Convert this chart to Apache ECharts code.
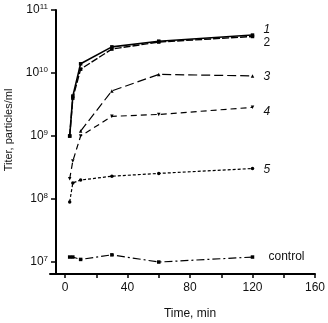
<!DOCTYPE html>
<html><head><meta charset="utf-8">
<script src="https://cdn.jsdelivr.net/npm/echarts@6/dist/echarts.min.js"></script>
<style>html,body{margin:0;padding:0;background:#fff}#c{width:328px;height:323px}</style>
</head><body><div id="c"></div>
<script>
// Time (min) and titer (particles/ml) per series
const s1T = [3, 5, 10, 30, 60, 120];
const s1V = [1.0e9, 4.3e9, 1.4e10, 2.6e10, 3.2e10, 4.0e10];
const s2T = [3, 5, 10, 30, 60, 120];
const s2V = [1.0e9, 4.0e9, 1.15e10, 2.4e10, 3.1e10, 3.8e10];
const s3T = [10, 30, 60, 120];
const s3V = [1.2e9, 5.2e9, 9.5e9, 9.0e9];
const s4T = [3, 5, 10, 30, 60, 120];
const s4V = [2.1e8, 4.0e8, 1.0e9, 2.05e9, 2.2e9, 2.85e9];
const s5T = [3, 5, 10, 30, 60, 120];
const s5V = [9.0e7, 1.8e8, 2.0e8, 2.3e8, 2.55e8, 3.05e8];
const ctrlT = [3, 5, 10, 30, 60, 120];
const ctrlV = [1.2e7, 1.2e7, 1.1e7, 1.3e7, 1.0e7, 1.2e7];
const seriesNames = ['1', '2', '3', '4', '5', 'control'];
const xTicks = [0, 20, 40, 60, 80, 100, 120, 140, 160];
const xLabels = [0, 40, 80, 120, 160];
const yExpTicks = [7, 8, 9, 10, 11];

const toData = (T, V) => T.map((t, i) => [t, Math.log10(V[i])]);
const FONT = 'Liberation Sans, Arial, sans-serif';
const downTri = 'path://M0,0 L10,0 L5,9 Z';

function mk(name, T, V, opts) {
  return {
    name: name, type: 'line', data: toData(T, V),
    symbol: opts.symbol, symbolSize: opts.size || 3.5,
    itemStyle: { color: '#000' },
    lineStyle: { color: '#000', width: opts.width || 1.2, type: opts.dash },
    endLabel: {
      show: true, formatter: name, color: '#111', fontFamily: FONT,
      fontSize: 12, fontStyle: opts.italic ? 'italic' : 'normal',
      offset: opts.off, distance: 5
    },
    emphasis: { disabled: true }, silent: true
  };
}

const chart = echarts.init(document.getElementById('c'), null, { renderer: 'canvas' });
chart.setOption({
  animation: false,
  grid: { left: 50, right: 13, top: 10, bottom: 49, containLabel: false, outerBoundsMode: 'none' },
  xAxis: {
    type: 'value', min: -9.6, max: 160,
    splitLine: { show: false },
    axisLine: { show: true, onZero: false, lineStyle: { color: '#000', width: 2 } },
    axisTick: { show: true, customValues: xTicks, length: 4, lineStyle: { color: '#000', width: 1.5 } },
    axisLabel: { customValues: xLabels, color: '#111', fontFamily: FONT, fontSize: 12, margin: 8 },
    name: 'Time, min', nameLocation: 'middle', nameGap: 34,
    nameTextStyle: { color: '#111', fontFamily: FONT, fontSize: 12, padding: [0, 0, 0, 15] }
  },
  yAxis: {
    type: 'value', min: 6.81, max: 11, offset: -6,
    splitLine: { show: false },
    axisLine: { show: true, onZero: false, lineStyle: { color: '#000', width: 2 } },
    axisTick: { show: true, customValues: yExpTicks, length: 5, lineStyle: { color: '#000', width: 1.5 } },
    axisLabel: {
      customValues: yExpTicks, margin: 8,
      formatter: v => '{b|10}{s|' + Math.round(v) + '}',
      rich: {
        b: { fontFamily: FONT, fontSize: 12, color: '#111' },
        s: { fontFamily: FONT, fontSize: 8, color: '#111', verticalAlign: 'top', padding: [0, 0, 6, 0] }
      }
    },
    name: 'Titer, particles/ml', nameLocation: 'middle', nameGap: 41,
    nameTextStyle: { color: '#111', fontFamily: FONT, fontSize: 11, padding: [0, 0, 0, 24] }
  },
  series: [
    mk(seriesNames[0], s1T, s1V, { symbol: 'rect', width: 1.6, dash: 'solid', italic: true, off: [6, -5] }),
    mk(seriesNames[1], s2T, s2V, { symbol: 'rect', width: 1.4, dash: [7, 2], italic: false, off: [6, 6] }),
    mk(seriesNames[2], s3T, s3V, { symbol: 'triangle', width: 1.2, dash: [9, 4], italic: true, off: [6, 1] }),
    mk(seriesNames[3], s4T, s4V, { symbol: downTri, width: 1.2, dash: [6, 4], italic: true, off: [6, 4] }),
    mk(seriesNames[4], s5T, s5V, { symbol: 'circle', width: 1.2, dash: [3, 2], italic: true, off: [6, 1] }),
    mk(seriesNames[5], ctrlT, ctrlV, { symbol: 'rect', width: 1.2, dash: [8, 3, 2, 3], italic: false, off: [11, 0] })
  ]
});
</script></body></html>
